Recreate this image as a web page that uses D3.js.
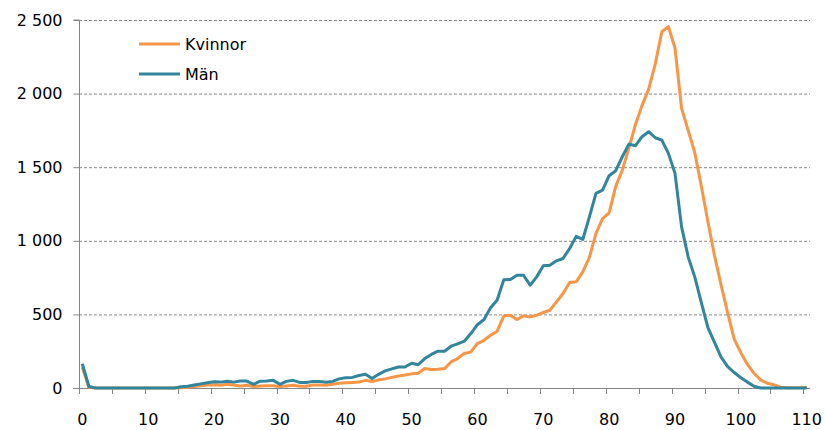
<!DOCTYPE html>
<html>
<head>
<meta charset="utf-8">
<script src="https://cdn.jsdelivr.net/npm/d3@7"></script>
<style>
  html, body { margin: 0; padding: 0; background: #fff; }
  svg { display: block; }
  text { font-family: "DejaVu Sans", sans-serif; fill: #000; }
</style>
</head>
<body>
<svg id="chart" width="825" height="430"></svg>
<script>
// Ages 0..110
const ages = d3.range(0, 111);

const seriesNames = ["Kvinnor", "Män"];
const seriesColors = ["#F79646", "#31859C"];

const kvinnor = [
  140, 5, 0, 0, 0, 0, 0, 0, 0, 0,
  0, 0, 0, 0, 0, 2, 5, 10, 15, 20,
  22, 18, 25, 20, 14, 18, 10, 14, 15, 16,
  10, 14, 18, 12, 12, 20, 20, 18, 25, 32,
  36, 38, 40, 52, 44, 55, 62, 72, 82, 88,
  96, 100, 132, 125, 127, 132, 177, 200, 234, 245,
  302, 324, 358, 386, 490, 494, 465, 490, 483, 494,
  513, 528, 585, 642, 717, 721, 789, 887, 1050, 1150,
  1190, 1370, 1480, 1630, 1790, 1920, 2030, 2200, 2420, 2455,
  2310, 1900, 1750, 1600, 1370, 1130, 900, 700, 510, 330,
  240, 160, 100, 55, 32, 22, 5, 2, 1, 1,
  5
];

const man = [
  165, 10, 0, 0, 0, 0, 0, 0, 0, 0,
  0, 0, 0, 0, 0, 8, 12, 20, 28, 35,
  42, 40, 46, 40, 48, 47, 25, 46, 48, 52,
  25, 45, 52, 38, 38, 45, 45, 39, 45, 62,
  70, 72, 85, 93, 64, 93, 116, 130, 143, 143,
  168, 158, 200, 228, 250, 250, 284, 300, 318, 370,
  430, 465, 545, 598, 735, 737, 766, 766, 698, 755,
  830, 834, 864, 880, 948, 1030, 1009, 1163, 1322, 1344,
  1442, 1476, 1571, 1657, 1646, 1707, 1741, 1700, 1684, 1594,
  1458, 1095, 891, 755, 580, 410, 310, 210, 145, 105,
  70, 40, 12, 0, 0, 0, 0, 0, 0, 0,
  0
];

const yTicks = [0, 500, 1000, 1500, 2000, 2500];
const xLabelAges = [0, 10, 20, 30, 40, 50, 60, 70, 80, 90, 100, 110];
const xTickAges = d3.range(0, 115, 5);

const svg = d3.select("#chart");
const mLeft = 79, mRight = 810, mTop = 20, mBottom = 388;

const x = d3.scaleBand().domain(ages).range([mLeft, mRight]).padding(0);
const y = d3.scaleLinear().domain([0, 2500]).range([mBottom, mTop]);

const loc = d3.formatLocale({decimal: ",", thousands: "\u00a0", grouping: [3], currency: ["", ""]});
const fmt = loc.format(",d");

// Gridlines
svg.append("g").selectAll("line").data(yTicks.filter(d => d > 0)).join("line")
  .attr("x1", mLeft).attr("x2", mRight)
  .attr("y1", d => y(d) + 0.5).attr("y2", d => y(d) + 0.5)
  .attr("stroke", "#8a8a8a").attr("stroke-width", 1).attr("stroke-dasharray", "3,2");

// Y axis
const yAxis = d3.axisLeft(y).tickValues(yTicks).tickSize(6).tickPadding(11).tickFormat(fmt);
const gy = svg.append("g").attr("transform", `translate(${mLeft + 0.5},0)`).call(yAxis);
gy.select(".domain").attr("stroke", "#868686").attr("d", `M-6,${mTop}H0V${mBottom}`);
gy.selectAll(".tick line").attr("stroke", "#868686");
gy.selectAll(".tick text").style("font-size", "16px").attr("fill", "#000");

// X axis line
svg.append("line").attr("x1", mLeft - 6).attr("x2", mRight)
  .attr("y1", mBottom + 0.5).attr("y2", mBottom + 0.5)
  .attr("stroke", "#868686").attr("stroke-width", 1);

// X ticks at category boundaries every 5
svg.append("g").selectAll("line").data(xTickAges).join("line")
  .attr("x1", d => Math.round(x(d)) + 0.5).attr("x2", d => Math.round(x(d)) + 0.5)
  .attr("y1", mBottom).attr("y2", mBottom + 6)
  .attr("stroke", "#868686");

// X labels at category centers
svg.append("g").selectAll("text").data(xLabelAges).join("text")
  .attr("x", d => x(d) + x.bandwidth() / 2)
  .attr("y", 425)
  .attr("text-anchor", "middle")
  .style("font-size", "16px")
  .text(d => d);

// Lines
const line = d3.line()
  .x((d, i) => x(ages[i]) + x.bandwidth() / 2)
  .y(d => y(d));

[[kvinnor, 0], [man, 1]].forEach(([data, k]) => {
  svg.append("path").datum(data)
    .attr("fill", "none")
    .attr("stroke", seriesColors[k])
    .attr("stroke-width", 3)
    .attr("stroke-linejoin", "round")
    .attr("d", line);
});

// Legend
const legend = svg.append("g");
seriesNames.forEach((name, i) => {
  const ly = 44 + i * 30;
  legend.append("line").attr("x1", 139).attr("x2", 180).attr("y1", ly).attr("y2", ly)
    .attr("stroke", seriesColors[i]).attr("stroke-width", 3);
  legend.append("text").attr("x", 185).attr("y", ly + 6).style("font-size", "16px").text(name);
});
</script>
</body>
</html>
